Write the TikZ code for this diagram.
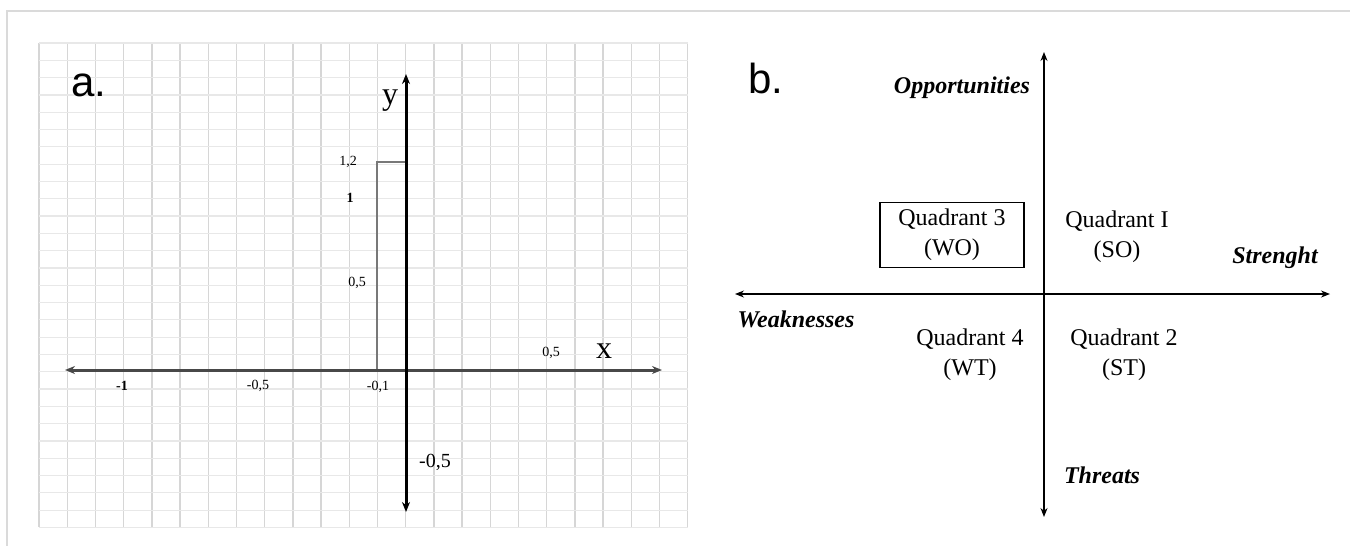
\documentclass[tikz,border=0pt]{standalone}
\usepackage{fontspec}
\setmainfont{Liberation Serif}
\newfontfamily\panelfont{Liberation Sans}
\usetikzlibrary{positioning,arrows.meta}
\definecolor{gridv}{RGB}{214,214,214}
\definecolor{gridh}{RGB}{232,232,232}
\definecolor{framegray}{RGB}{218,218,218}
\definecolor{axisgray}{RGB}{72,72,72}
\definecolor{bargray}{RGB}{120,120,120}
\tikzset{
  vline/.style={draw=gridv,line width=0.7pt},
  hline/.style={draw=gridh,line width=0.6pt},
  thickaxis/.style={line width=1.5pt,{Stealth[length=5pt,width=4pt]}-{Stealth[length=5pt,width=4pt]}},
  thinaxis/.style={line width=0.6pt,{Stealth[length=4.5pt,width=3.5pt]}-{Stealth[length=4.5pt,width=3.5pt]}},
  ticklab/.style={inner sep=0pt,font=\fontsize{7}{8}\selectfont},
  axislab/.style={inner sep=0pt,font=\fontsize{16}{18}\selectfont},
  panellab/.style={inner sep=0pt,anchor=base west,font=\panelfont\fontsize{21}{24}\selectfont},
  swotlab/.style={inner sep=0pt,font=\fontsize{12}{14}\selectfont\bfseries\itshape},
  quadlab/.style={align=center,font=\fontsize{12}{15}\selectfont},
}
\newcommand{\quadnode}[4]{\node[quadlab,#4] (#1) at #2 {#3};}

\begin{document}
\begin{tikzpicture}[x=0.5pt,y=-0.5pt]
  \useasboundingbox (0,0) rectangle (1350,546);
  % frame
  \draw[framegray,line width=1pt] (7,546) -- (7,11) -- (1350,11);
  % squared paper of panel a
  \foreach \i in {0,...,23} \draw[vline] ({39+\i*28.2},43) -- ({39+\i*28.2},527);
  \foreach \j in {0,...,28} \draw[hline] (39,{43+\j*17.3}) -- (688,{43+\j*17.3});
  % panel a
  \node[panellab] (pa) at (71,96) {a.};
  \coordinate (xl) at (65,370);  \coordinate (xr) at (662,370);
  \coordinate (yt) at (406,74);  \coordinate (yb) at (406,512);
  \coordinate (o) at (406,370);
  \coordinate (bl) at (377,370); \coordinate (bt) at (377,162); \coordinate (br) at (406,162);
  \draw[bargray,line width=0.6pt] (bl) -- (bt) -- (br);
  \draw[thickaxis,axisgray] (xl) -- (xr);
  \draw[thickaxis,black] (yb) -- (yt);
  \node[axislab] (ylab) at (390,101) {y};
  \node[axislab] (xlab) at (604,351) {x};
  \node[ticklab] (t12) at (348,162) {1,2};
  \node[ticklab] (t1) at (350,198) {\bfseries 1};
  \node[ticklab] (t05) at (357,283) {0,5};
  \node[ticklab] (tx05) at (551,353) {0,5};
  \node[ticklab] (txm1) at (122,386) {\bfseries -1};
  \node[ticklab] (txm05) at (258,386) {-0,5};
  \node[ticklab] (txm01) at (378,387) {-0,1};
  \node[inner sep=0pt,font=\fontsize{10}{12}\selectfont] (tym05) at (435,462) {-0,5};
  % panel b
  \node[panellab] (pb) at (748,93) {b.};
  \coordinate (wl) at (735,294); \coordinate (sr) at (1330,294);
  \coordinate (ot) at (1044,52);  \coordinate (tb) at (1044,517);
  \draw[thinaxis] (wl) -- (sr);
  \draw[thinaxis] (tb) -- (ot);
  \node[swotlab] (opp) at (962,88) {Opportunities};
  \node[swotlab] (str) at (1275,258) {Strenght};
  \node[swotlab] (weak) at (796,319) {Weaknesses};
  \node[swotlab] (thr) at (1102,475) {Threats};
  \quadnode{q3}{(952,235)}{Quadrant 3\\(WO)}{draw,line width=0.9pt,minimum width=72pt,minimum height=32pt}
  \quadnode{q1}{(1117,237)}{Quadrant I\\(SO)}{}
  \quadnode{q4}{(970,355)}{Quadrant 4\\(WT)}{}
  \quadnode{q2}{(1124,355)}{Quadrant 2\\(ST)}{}
\end{tikzpicture}
\end{document}
